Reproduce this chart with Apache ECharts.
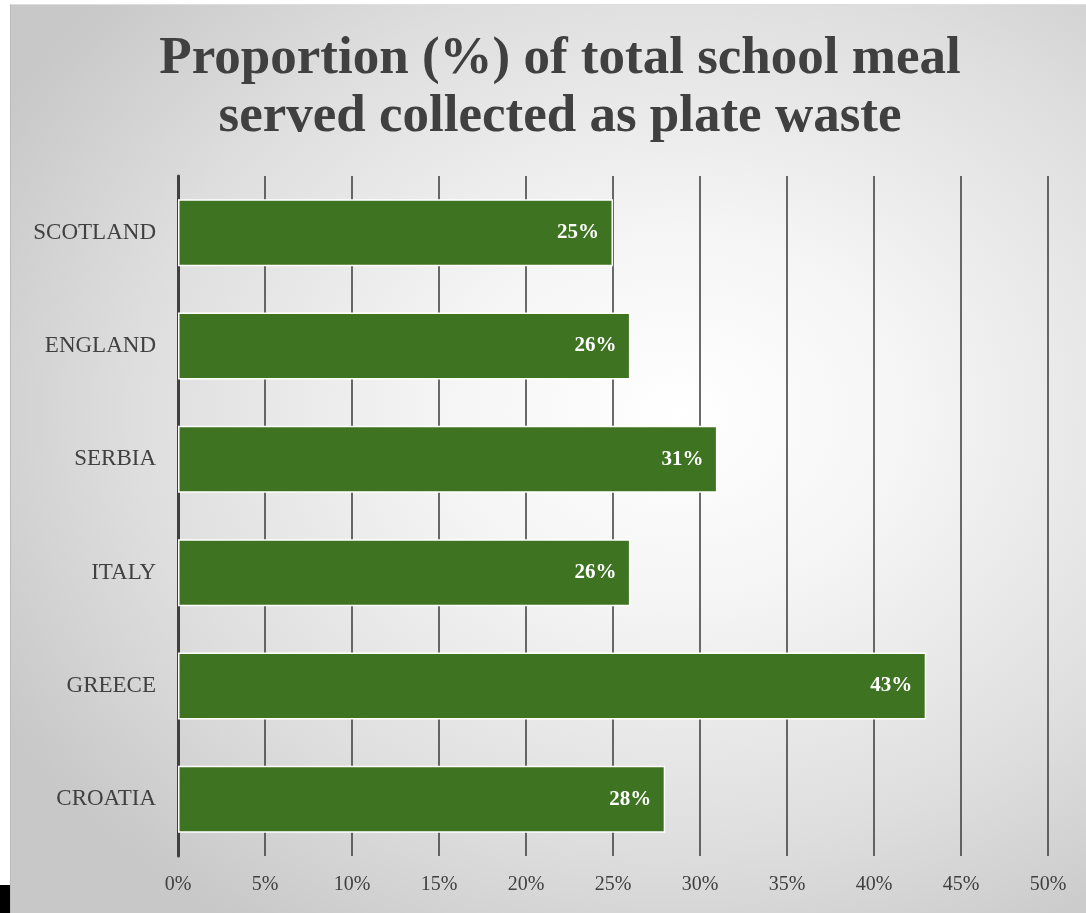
<!DOCTYPE html>
<html lang="en">
<head>
    <meta charset="UTF-8">
    <title>Plate waste chart</title>
    <script src="https://cdn.jsdelivr.net/npm/echarts@6.0.0/dist/echarts.min.js"></script>
    <style>
        html, body { margin: 0; padding: 0; background: #fff; }
        #panel {
            position: absolute; left: 10px; top: 4px; width: 1076px; height: 909px;
            background: radial-gradient(ellipse 72% 68% at 62% 45%, #ffffff 0%, #f5f5f5 30%, #dedede 70%, #c8c8c8 100%);
            border-left: 1px solid #bbb; border-top: 1px solid #ddd;
        }
        #corner { position: absolute; left: 0; top: 885px; width: 10px; height: 28px; background: #000; }
        #chart { position: absolute; left: 0; top: 0; width: 1086px; height: 913px; }
    </style>
</head>
<body>
<div id="panel"></div>
<div id="corner"></div>
<div id="chart"></div>
<script>
    const countries = ["SCOTLAND", "ENGLAND", "SERBIA", "ITALY", "GREECE", "CROATIA"];
    const wastePct = [25, 26, 31, 26, 43, 28];

    const serif = "'Liberation Serif', 'DejaVu Serif', serif";
    const ink = '#404040';

    const myChart = echarts.init(document.getElementById("chart"));
    const option = {
        backgroundColor: 'transparent',
        title: {
            text: "Proportion (%) of total school meal\nserved collected as plate waste",
            left: 555,
            textAlign: 'center',
            top: 25,
            textStyle: {
                fontFamily: serif,
                fontWeight: 'bold',
                fontSize: 53,
                lineHeight: 58,
                color: ink
            }
        },
        grid: { left: 178, right: 38, top: 176, bottom: 57 },
        xAxis: {
            type: 'value',
            min: 0,
            max: 50,
            interval: 5,
            axisLine: { show: false },
            axisTick: { show: false },
            axisLabel: {
                formatter: '{value}%',
                margin: 19,
                fontFamily: serif,
                fontSize: 20,
                color: ink
            },
            splitLine: { show: true, lineStyle: { color: '#3a3a3a', width: 1.5 } }
        },
        yAxis: {
            type: 'category',
            data: countries,
            inverse: true,
            axisLine: { show: true, lineStyle: { color: ink, width: 3 } },
            axisTick: { show: false },
            axisLabel: {
                margin: 22,
                fontFamily: serif,
                fontSize: 23,
                color: ink
            }
        },
        series: [
            {
                name: "Plate waste",
                type: 'bar',
                data: wastePct,
                barWidth: 67,
                itemStyle: { color: '#3e7421', borderColor: '#ffffff', borderWidth: 1.5 },
                label: {
                    show: true,
                    position: 'insideRight',
                    distance: 14,
                    formatter: '{c}%',
                    fontFamily: serif,
                    fontWeight: 'bold',
                    fontSize: 21,
                    color: '#ffffff'
                }
            }
        ]
    };
    myChart.setOption(option);
</script>
</body>
</html>
